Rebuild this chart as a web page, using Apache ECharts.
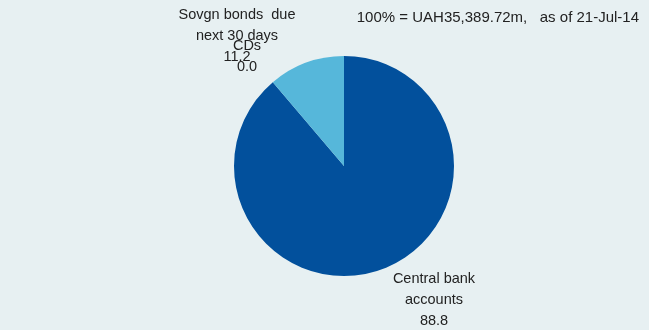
<!DOCTYPE html>
<html><head><meta charset="utf-8">
<script src="https://cdn.jsdelivr.net/npm/echarts@6/dist/echarts.min.js"></script>
<style>html,body{margin:0;padding:0;background:#e7f0f2;}#c{width:649px;height:330px;}</style>
</head><body><div id="c"></div>
<script>
const categories = ["Central bank\naccounts", "CDs", "Sovgn bonds  due\nnext 30 days"];
const values = [88.8, 0.0, 11.2];
const colors = ["#02509c", "#3aa8d4", "#56b7da"];
const titleText = "100% = UAH35,389.72m,   as of 21-Jul-14";
const labelPos = [[434, 300], [247, 56], [237, 36]];

const chart = echarts.init(document.getElementById('c'));
const FONT = '"Liberation Sans Narrow", "Liberation Sans", sans-serif';
chart.setOption({
  backgroundColor: '#e7f0f2',
  animation: false,
  title: {
    text: titleText, right: 5, top: 5,
    textStyle: {fontFamily: FONT, fontSize: 15, fontWeight: 'normal', color: '#222'}
  },
  series: [{
    type: 'pie',
    center: [344, 166],
    radius: [0, 110],
    startAngle: 90,
    clockwise: true,
    avoidLabelOverlap: false,
    stillShowZeroSum: true,
    data: categories.map((c, i) => ({name: c, value: values[i], itemStyle: {color: colors[i]}})),
    itemStyle: {borderWidth: 0},
    label: {
      show: true, position: 'outside',
      formatter: p => p.name + '\n' + p.value.toFixed(1),
      fontFamily: FONT, fontSize: 14.5, color: '#222', lineHeight: 21, align: 'center'
    },
    labelLine: {show: false},
    labelLayout: function (params) {
      const p = labelPos[params.dataIndex];
      return {x: p[0], y: p[1], align: 'center', verticalAlign: 'middle'};
    },
    emphasis: {disabled: true}
  }]
});
</script></body></html>
